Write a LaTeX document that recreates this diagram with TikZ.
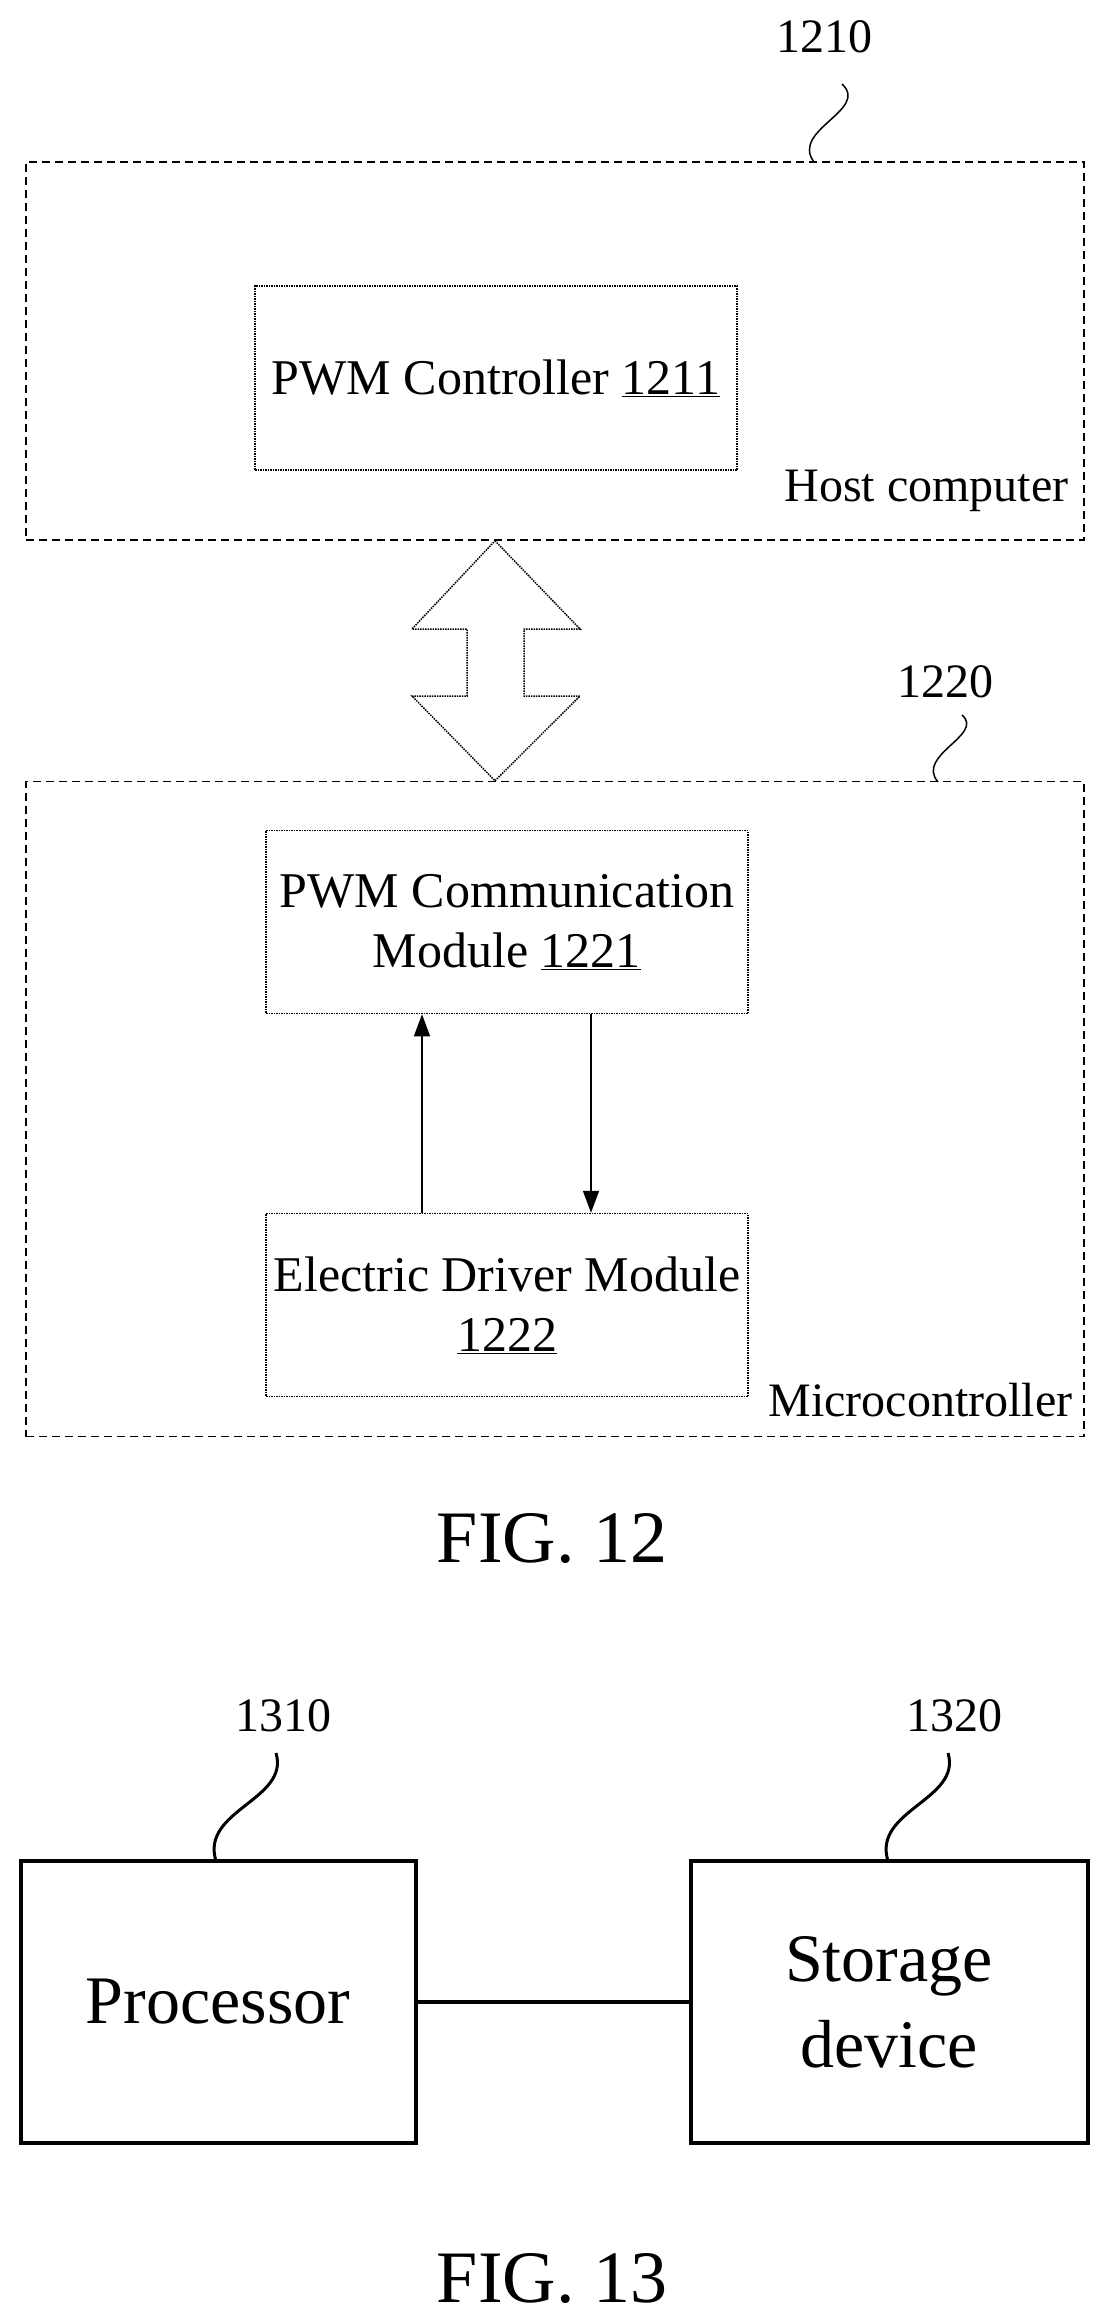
\documentclass[tikz,border=0pt]{standalone}
\usepackage{fontspec}
\setmainfont{Liberation Serif}
\usetikzlibrary{positioning,arrows.meta,calc}
\tikzset{group/.style={draw,dashed,line width=1.5pt,dash pattern=on 8pt off 5pt,inner sep=0pt},
         module/.style={draw,densely dotted,line width=1.5pt,align=center,inner sep=0pt,font=\fontsize{50}{60}\selectfont},
         unit/.style={draw,line width=4pt,align=center,inner sep=0pt,font=\fontsize{68}{86}\selectfont},
         ref/.style={font=\fontsize{48}{56}\selectfont},
         caption/.style={font=\fontsize{74}{80}\selectfont},
         line/.style={line width=1.5pt,-{Triangle[length=22pt,width=16pt]}},
         lead/.style={line width=1.5pt}
}
\begin{document}
\begin{tikzpicture}[x=1pt,y=-1pt]
\useasboundingbox (0,0) rectangle (1105,2316);
% FIG. 12
\node (host) [group,minimum width=1058pt,minimum height=378pt] at (555,351) {};
\node (pwmc) [module,minimum width=482pt,minimum height=184pt] at (496,378) {PWM Controller \underline{1211}};
\node (hostlbl) [ref,anchor=base east] at (1072,501) {Host computer};
\node (r1210) [ref] at (824,37) {1210};
\draw [lead] (842,84) .. controls (870,110) and (790,130) .. (814,162);

\node (micro) [group,minimum width=1058pt,minimum height=655pt] at (555,1109) {};
\node (pwmm) [module,minimum width=482pt,minimum height=183pt] at (507,922) {PWM Communication\\Module \underline{1221}};
\node (edm) [module,minimum width=482pt,minimum height=183pt] at (507,1305) {Electric Driver Module\\\underline{1222}};
\node (microlbl) [ref,anchor=base east] at (1076,1416) {Microcontroller};
\node (r1220) [ref] at (945,682) {1220};
\draw [lead] (962,715) .. controls (985,735) and (915,755) .. (938,782);

\draw [line] (edm.north -| 422,0) -- (pwmm.south -| 422,0);
\draw [line] (pwmm.south -| 591,0) -- (edm.north -| 591,0);

% bus between host and microcontroller
\draw [densely dotted,line width=1.5pt] (host.south -| 495,0) -- (580,629) -- (524,629) -- (524,696) -- (580,696)
  -- (micro.north -| 495,0) -- (412,696) -- (467,696) -- (467,629) -- (412,629) -- cycle;

\node (fig12) [caption] at (552,1539) {FIG. 12};

% FIG. 13
\node (proc) [unit,minimum width=395pt,minimum height=282pt] at (218,2002) {Processor};
\node (stor) [unit,minimum width=397pt,minimum height=282pt] at (889,2002) {Storage\\device};
\draw [line width=4pt] (proc) -- (stor);
\node (r1310) [ref] at (283,1716) {1310};
\node (r1320) [ref] at (954,1716) {1320};
\draw [line width=3pt] (276,1753) .. controls (290,1800) and (200,1810) .. (216,1861);
\draw [line width=3pt] (948,1753) .. controls (962,1800) and (872,1810) .. (888,1861);

\node (fig13) [caption] at (552,2278) {FIG. 13};
\end{tikzpicture}
\end{document}
